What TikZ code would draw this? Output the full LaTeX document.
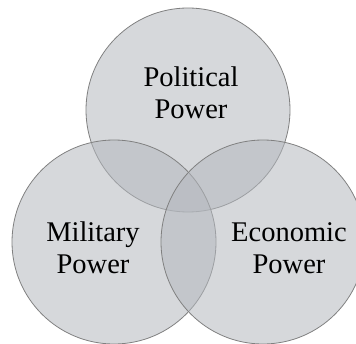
\documentclass[tikz,border=0pt]{standalone}
\usepackage{fontspec}
\setmainfont{Liberation Serif}
\definecolor{vennfill}{RGB}{180,184,190}
\definecolor{vennedge}{RGB}{128,128,128}

\begin{document}
\begin{tikzpicture}[x=1pt,y=1pt,
  powercircle/.style={fill=vennfill, fill opacity=0.55, draw=vennedge, line width=0.8pt},
  powerlabel/.style={align=center, font=\fontsize{28.5}{32}\selectfont, text=black}]
\useasboundingbox (0,0) rectangle (356,343);
% Power Circles
\draw[powercircle] (188,233) circle (102pt);
\draw[powercircle] (114,101) circle (102pt);
\draw[powercircle] (263,101) circle (102pt);
% Labels
\node[powerlabel] (political) at (191,250.25) {Political\\Power};
\node[powerlabel] (military) at (93,95.25) {Military\\Power};
\node[powerlabel] (economic) at (289,95.25) {Economic\\Power};
\end{tikzpicture}
\end{document}
